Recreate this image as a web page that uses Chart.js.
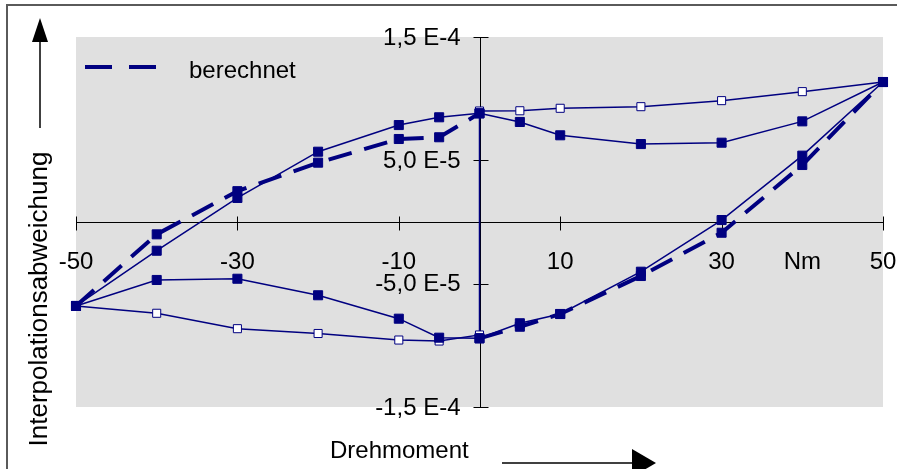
<!DOCTYPE html>
<html>
<head>
<meta charset="utf-8">
<script src="https://cdn.jsdelivr.net/npm/chart.js@4.4.1/dist/chart.umd.min.js"></script>
<style>
html, body { margin: 0; padding: 0; background: #fff; }
</style>
</head>
<body>
<canvas id="hyst" width="897" height="469"></canvas>
<script>
// Drehmoment-Stuetzstellen (Nm)
var xMess = [-50, -40, -30, -20, -10, -5, 0, 5, 10, 20, 30, 40, 50];
// gemessen, gefuellte Quadrate
var yOben = [-6.81e-5, -2.33e-5, 1.95e-5, 5.70e-5, 7.86e-5, 8.49e-5, 8.81e-5, 8.11e-5, 7.03e-5, 6.32e-5, 6.43e-5, 8.16e-5, 11.35e-5];
var yUnten = [-6.81e-5, -4.70e-5, -4.60e-5, -5.94e-5, -7.84e-5, -9.38e-5, -9.43e-5, -8.21e-5, -7.46e-5, -4.03e-5, 0.16e-5, 5.38e-5, 11.35e-5];
// offene Quadrate (Schleife ueber 0 Nm)
var xOffen = [-50, -40, -30, -20, -10, -5, 0, 0, 5, 10, 20, 30, 40, 50];
var yOffen = [-6.81e-5, -7.40e-5, -8.65e-5, -9.04e-5, -9.57e-5, -9.65e-5, -9.16e-5, 9.00e-5, 9.02e-5, 9.22e-5, 9.35e-5, 9.84e-5, 10.57e-5, 11.35e-5];
// berechnet (gestrichelt), Luecke bei 0 Nm
var xBer = [-50, -40, -30, -20, -10, -5, 0, null, 0, 5, 10, 20, 30, 40, 50];
var yBer = [-6.81e-5, -1.00e-5, 2.50e-5, 4.81e-5, 6.73e-5, 6.87e-5, 8.81e-5, null, -9.43e-5, -8.49e-5, -7.46e-5, -4.38e-5, -0.87e-5, 4.62e-5, 11.35e-5];

// Achsbeschriftungen
var xTicks = [-50, -30, -10, 10, 30, 50];
var xLabelPos = [-50, -30, -10, 10, 30, 40, 50];
var xLabelTxt = ['-50', '-30', '-10', '10', '30', 'Nm', '50'];
var yTicks = [1.5e-4, 5e-5, -5e-5, -1.5e-4];
var yLabelTxt = ['1,5 E-4', '5,0 E-5', '-5,0 E-5', '-1,5 E-4'];

var navy = '#000080';
var schrift = '"Liberation Sans", Arial, sans-serif';

function punkte(xs, ys) {
    return xs.map(function (x, i) { return { x: x, y: ys[i] }; });
}

var zeichnen = {
    id: 'zeichnen',
    beforeDraw: function (chart) {
        var ctx = chart.ctx, a = chart.chartArea;
        ctx.save();
        ctx.fillStyle = '#fff';
        ctx.fillRect(0, 0, chart.width, chart.height);
        // Rahmen oben/links
        ctx.strokeStyle = '#5a5a5a';
        ctx.lineWidth = 2;
        ctx.beginPath();
        ctx.moveTo(7, 469); ctx.lineTo(7, 5); ctx.lineTo(897, 5);
        ctx.stroke();
        // Plotflaeche
        ctx.fillStyle = '#e0e0e0';
        ctx.fillRect(a.left, a.top, a.right - a.left, a.bottom - a.top);
        ctx.restore();
    },
    beforeDatasetsDraw: function (chart) {
        var ctx = chart.ctx, a = chart.chartArea;
        var sx = chart.scales.x, sy = chart.scales.y;
        var y0 = Math.round(sy.getPixelForValue(0)) + 0.5;
        var x0 = Math.round(sx.getPixelForValue(0)) + 0.5;
        ctx.save();
        ctx.strokeStyle = '#000';
        ctx.lineWidth = 1;
        ctx.beginPath();
        ctx.moveTo(a.left, y0); ctx.lineTo(a.right, y0);
        ctx.moveTo(x0, a.top); ctx.lineTo(x0, a.bottom);
        xTicks.forEach(function (v) {
            var px = Math.round(sx.getPixelForValue(v)) + 0.5;
            ctx.moveTo(px, y0 - 6); ctx.lineTo(px, y0 + 8);
        });
        yTicks.forEach(function (v) {
            var py = Math.round(sy.getPixelForValue(v)) + 0.5;
            ctx.moveTo(x0 - 7, py); ctx.lineTo(x0 + 8, py);
        });
        ctx.stroke();

        ctx.fillStyle = '#000';
        ctx.font = '24px ' + schrift;
        ctx.textBaseline = 'middle';
        ctx.textAlign = 'center';
        xLabelPos.forEach(function (v, i) {
            ctx.fillText(xLabelTxt[i], sx.getPixelForValue(v), y0 + 40);
        });
        ctx.textAlign = 'right';
        yTicks.forEach(function (v, i) {
            ctx.fillText(yLabelTxt[i], x0 - 20, sy.getPixelForValue(v) + 1);
        });
        ctx.restore();
    },
    afterDraw: function (chart) {
        var ctx = chart.ctx;
        ctx.save();
        // Legende
        ctx.strokeStyle = navy;
        ctx.lineWidth = 4;
        ctx.setLineDash([27, 17]);
        ctx.beginPath();
        ctx.moveTo(85, 67); ctx.lineTo(156, 67);
        ctx.stroke();
        ctx.setLineDash([]);
        ctx.fillStyle = '#000';
        ctx.font = '24px ' + schrift;
        ctx.textBaseline = 'middle';
        ctx.textAlign = 'left';
        ctx.fillText('berechnet', 189, 71);

        // x-Titel und Pfeil
        ctx.fillText('Drehmoment', 330, 451);
        ctx.strokeStyle = '#000';
        ctx.lineWidth = 1.5;
        ctx.beginPath();
        ctx.moveTo(502, 463); ctx.lineTo(634, 463);
        ctx.stroke();
        ctx.beginPath();
        ctx.moveTo(656, 463); ctx.lineTo(632, 449); ctx.lineTo(632, 477);
        ctx.closePath(); ctx.fill();

        // y-Titel und Pfeil
        ctx.save();
        ctx.translate(40, 299);
        ctx.rotate(-Math.PI / 2);
        ctx.textAlign = 'center';
        ctx.font = '26px ' + schrift;
        ctx.fillText('Interpolationsabweichung', 0, 0);
        ctx.restore();
        ctx.beginPath();
        ctx.moveTo(40, 128); ctx.lineTo(40, 40);
        ctx.stroke();
        ctx.beginPath();
        ctx.moveTo(40, 18); ctx.lineTo(32, 42); ctx.lineTo(48, 42);
        ctx.closePath(); ctx.fill();
        ctx.restore();
    }
};

var ctx = document.getElementById('hyst').getContext('2d');
var diagramm = new Chart(ctx, {
    type: 'scatter',
    data: {
        datasets: [{
            label: 'oben',
            data: punkte(xMess, yOben),
            showLine: true,
            borderColor: navy,
            borderWidth: 1.5,
            pointStyle: 'rect',
            pointRadius: 6.4,
            pointBackgroundColor: navy,
            pointBorderColor: navy,
            pointBorderWidth: 1,
            order: 0
        }, {
            label: 'unten',
            data: punkte(xMess, yUnten),
            showLine: true,
            borderColor: navy,
            borderWidth: 1.5,
            pointStyle: 'rect',
            pointRadius: 6.4,
            pointBackgroundColor: navy,
            pointBorderColor: navy,
            pointBorderWidth: 1,
            order: 1
        }, {
            label: 'berechnet',
            data: punkte(xBer, yBer),
            showLine: true,
            spanGaps: false,
            borderColor: navy,
            borderWidth: 4,
            borderDash: [24, 13],
            pointStyle: 'rect',
            pointRadius: 6.4,
            pointBackgroundColor: navy,
            pointBorderColor: navy,
            pointBorderWidth: 1,
            order: 2
        }, {
            label: 'offen',
            data: punkte(xOffen, yOffen),
            showLine: true,
            borderColor: navy,
            borderWidth: 1.5,
            pointStyle: 'rect',
            pointRadius: 5.7,
            pointBackgroundColor: '#fff',
            pointBorderColor: navy,
            pointBorderWidth: 1,
            order: 3
        }]
    },
    options: {
        responsive: false,
        animation: false,
        clip: false,
        layout: { padding: { left: 76, right: 14, top: 37, bottom: 62 } },
        plugins: { legend: { display: false }, tooltip: { enabled: false } },
        scales: {
            x: { type: 'linear', min: -50, max: 50, display: false },
            y: { type: 'linear', min: -1.5e-4, max: 1.5e-4, display: false }
        }
    },
    plugins: [zeichnen]
});
</script>
</body>
</html>
